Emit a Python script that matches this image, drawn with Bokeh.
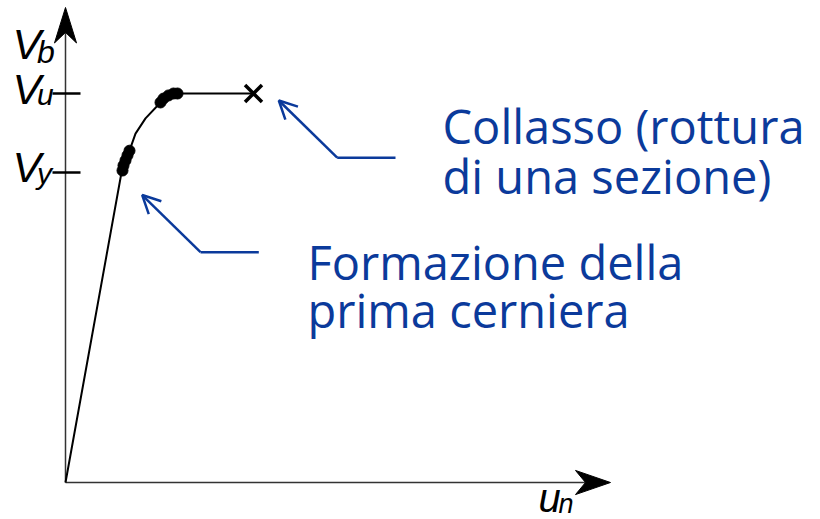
from bokeh.plotting import figure
from bokeh.models import Range1d, Arrow, OpenHead
from bokeh.core.properties import value
from bokeh.embed import file_html
from bokeh.resources import INLINE

# ---- data (displacement u_n, base shear V_b normalised to V_u) ----
curve_u = [0.0, 0.56, 0.64, 0.70, 0.80, 0.95, 1.05, 1.13, 1.88]
curve_V = [0.0, 0.797, 0.853, 0.897, 0.936, 0.977, 0.995, 1.0, 1.0]
hinge1_u = [0.57, 0.58, 0.60, 0.62, 0.64]
hinge1_V = [0.802, 0.815, 0.828, 0.841, 0.853]
hinge2_u = [0.95, 0.98, 1.03, 1.08, 1.12]
hinge2_V = [0.977, 0.987, 0.995, 1.0, 1.0]
collapse_u = [1.88]
collapse_V = [1.0]
tick_values = [0.797, 1.0]
tick_main = ["V", "V"]
tick_subs = ["y", "u"]
note1_lines = ["Collasso (rottura", "di una sezione)"]
note2_lines = ["Formazione della", "prima cerniera"]

BLUE = "#0b3a9b"
AX = "#333333"

p = figure(width=820, height=519, x_range=Range1d(-0.65, 7.55),
           y_range=Range1d(-0.0951, 1.2391), x_axis_type=None, y_axis_type=None,
           output_backend="svg", toolbar_location=None, min_border=0)
p.outline_line_color = None
p.grid.visible = False
p.background_fill_color = "white"
p.border_fill_color = "white"

# axes with arrowheads
p.line([0, 0], [0, 1.16], line_color=AX, line_width=1.5)
p.line([0, 5.2], [0, 0], line_color=AX, line_width=1.5)
p.patch([0, -0.11, 0, 0.11], [1.2211, 1.13, 1.157, 1.13], color="black")
p.patch([5.45, 5.10, 5.20, 5.10], [0, 0.031, 0, -0.031], color="black")

# tick marks and labels
p.segment(x0=[-0.13] * len(tick_values), x1=[0.15] * len(tick_values),
          y0=tick_values, y1=tick_values, line_color="black", line_width=2.5)
px_V = 1 / 389.0
p.text(x=[-0.53] * 2, y=[v + 5 * px_V for v in tick_values], text=tick_main,
       text_font=value("Liberation Sans"), text_font_style="italic",
       text_font_size="43px", text_color="black", text_baseline="alphabetic")
p.text(x=[-0.285] * 2, y=[v - 1 * px_V for v in tick_values], text=tick_subs,
       text_font=value("Liberation Sans"), text_font_style="italic",
       text_font_size="30px", text_color="black", text_baseline="alphabetic")
# axis titles
p.text(x=[-0.53], y=[1.126], text=["V"], text_font=value("Liberation Sans"),
       text_font_style="italic", text_font_size="43px", text_color="black",
       text_baseline="alphabetic")
p.text(x=[-0.285], y=[1.1067], text=["b"], text_font=value("Liberation Sans"),
       text_font_style="italic", text_font_size="32px", text_color="black",
       text_baseline="alphabetic")
p.text(x=[4.73], y=[-0.039], text=["u"], text_font=value("Liberation Sans"),
       text_font_style="italic", text_font_size="40px", text_color="black",
       text_baseline="alphabetic")
p.text(x=[4.93], y=[-0.056], text=["n"], text_font=value("Liberation Sans"),
       text_font_style="italic", text_font_size="27px", text_color="black",
       text_baseline="alphabetic")

# capacity curve
p.line(curve_u, curve_V, line_color="black", line_width=2)
p.scatter(hinge1_u, hinge1_V, size=11, color="black")
p.scatter(hinge2_u, hinge2_V, size=11, color="black")
p.scatter(collapse_u, collapse_V, marker="x", size=24, line_width=3.5, color="black")

# annotation arrows
for (tip, bend, end) in [((2.133, 0.982), (2.717, 0.835), (3.30, 0.835)),
                         ((0.767, 0.739), (1.35, 0.592), (1.933, 0.592))]:
    p.line([end[0], bend[0]], [end[1], bend[1]], line_color=BLUE, line_width=2.5)
    p.add_layout(Arrow(end=OpenHead(size=18, line_color=BLUE, line_width=2.5),
                       x_start=bend[0], y_start=bend[1], x_end=tip[0], y_end=tip[1],
                       line_color=BLUE, line_width=2.5))

p.text(x=[3.77, 3.77], y=[0.9165, 0.7879], text=note1_lines, text_font=value("Open Sans"),
       text_font_size="47px", text_color=BLUE, text_baseline="alphabetic")
p.text(x=[2.42, 2.42], y=[0.5668, 0.4434], text=note2_lines, text_font=value("Open Sans"),
       text_font_size="47px", text_color=BLUE, text_baseline="alphabetic")

open("out.html", "w").write(file_html(p, INLINE))
